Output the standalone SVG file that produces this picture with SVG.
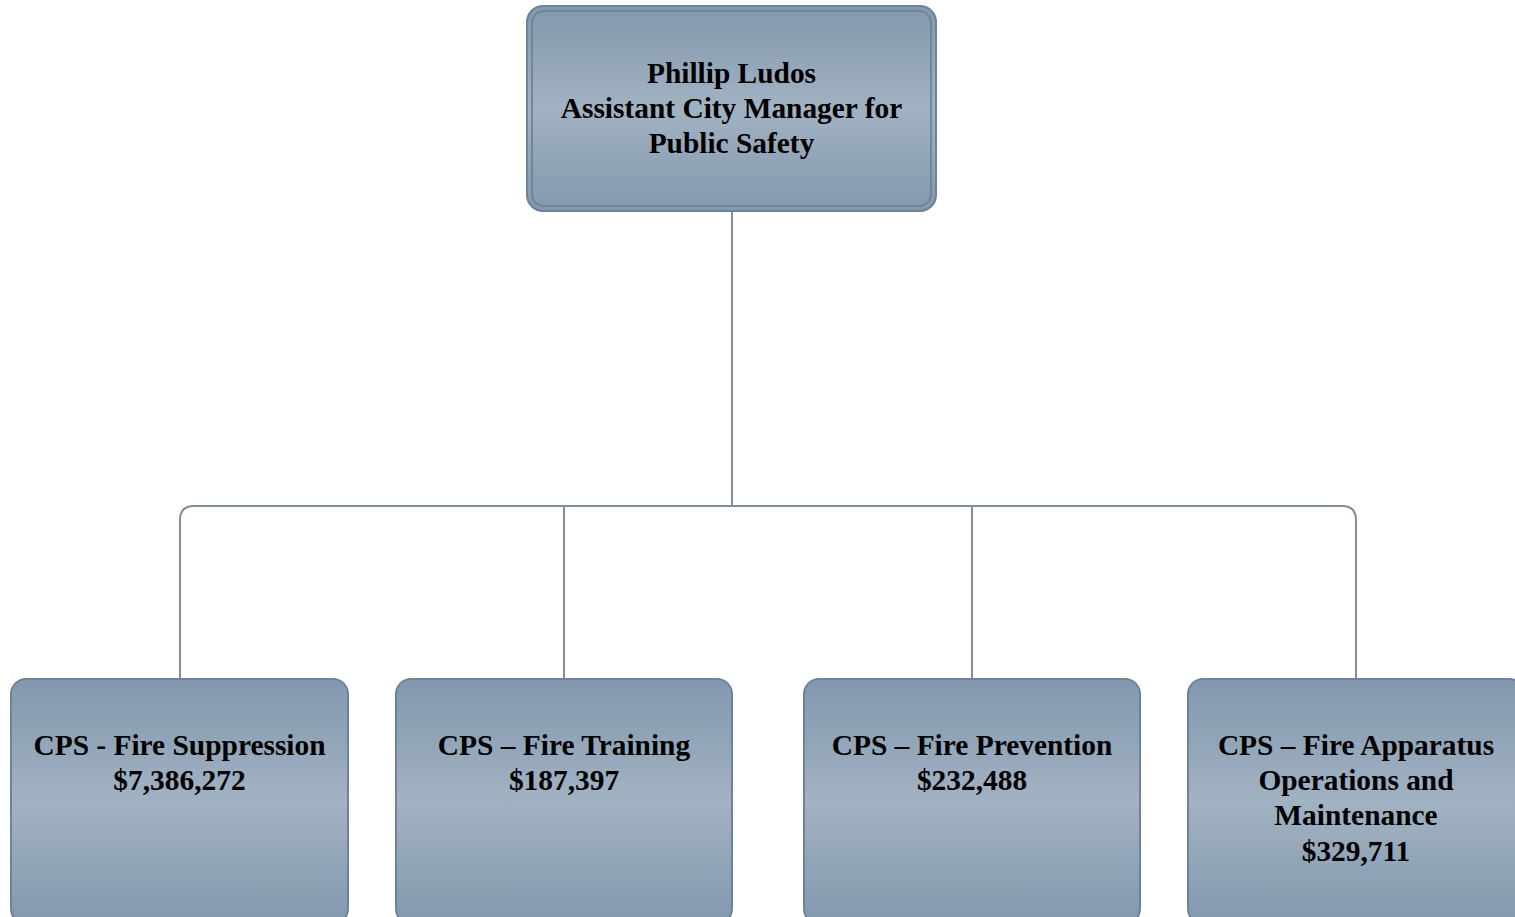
<svg xmlns="http://www.w3.org/2000/svg" width="1515" height="917" viewBox="0 0 1515 917">
  <defs>
    <linearGradient id="boxFill" x1="0" y1="0" x2="0" y2="1">
      <stop offset="0" stop-color="#8398ae"/>
      <stop offset="0.5" stop-color="#a1b2c2"/>
      <stop offset="1" stop-color="#8398ae"/>
    </linearGradient>
    <style>
      .box { fill: url(#boxFill); stroke: #6f8397; stroke-width: 2; }
      .rim { fill: none; stroke: #6a7f94; stroke-width: 1.6; }
      .link { fill: none; stroke: #7f8fa0; stroke-width: 2; }
      .label { font-family: "Liberation Serif", "Times New Roman", serif; font-weight: bold; font-size: 29.4px; fill: #000; text-anchor: middle; }
    </style>
  </defs>
  <rect width="1515" height="917" fill="#ffffff"/>

  <!-- tree connectors -->
  <g id="connectors">
    <path class="link" d="M732 211 V506"/>
    <path class="link" d="M180 679 V520 Q180 506 194 506 H1342 Q1356 506 1356 520 V679"/>
    <path class="link" d="M564 506 V679"/>
    <path class="link" d="M972 506 V679"/>
  </g>

  <!-- head of the department -->
  <g id="node-ludos">
    <rect class="box" x="527" y="6" width="409" height="205" rx="16"/>
    <rect class="rim" x="532" y="11" width="399" height="195" rx="12"/>
    <text class="label" x="731.5" y="83">Phillip Ludos</text>
    <text class="label" x="731.5" y="118">Assistant City Manager for</text>
    <text class="label" x="731.5" y="153">Public Safety</text>
  </g>

  <!-- divisions -->
  <g id="node-suppression">
    <rect class="box" x="11" y="679" width="337" height="245" rx="15"/>
    <text class="label" x="179.5" y="755">CPS - Fire Suppression</text>
    <text class="label" x="179.5" y="790">$7,386,272</text>
  </g>
  <g id="node-training">
    <rect class="box" x="396" y="679" width="336" height="245" rx="15"/>
    <text class="label" x="564" y="755">CPS – Fire Training</text>
    <text class="label" x="564" y="790">$187,397</text>
  </g>
  <g id="node-prevention">
    <rect class="box" x="804" y="679" width="336" height="245" rx="15"/>
    <text class="label" x="972" y="755">CPS – Fire Prevention</text>
    <text class="label" x="972" y="790">$232,488</text>
  </g>
  <g id="node-apparatus">
    <rect class="box" x="1188" y="679" width="336" height="245" rx="15"/>
    <text class="label" x="1356" y="755">CPS – Fire Apparatus</text>
    <text class="label" x="1356" y="790">Operations and</text>
    <text class="label" x="1356" y="825">Maintenance</text>
    <text class="label" x="1356" y="861">$329,711</text>
  </g>
</svg>
